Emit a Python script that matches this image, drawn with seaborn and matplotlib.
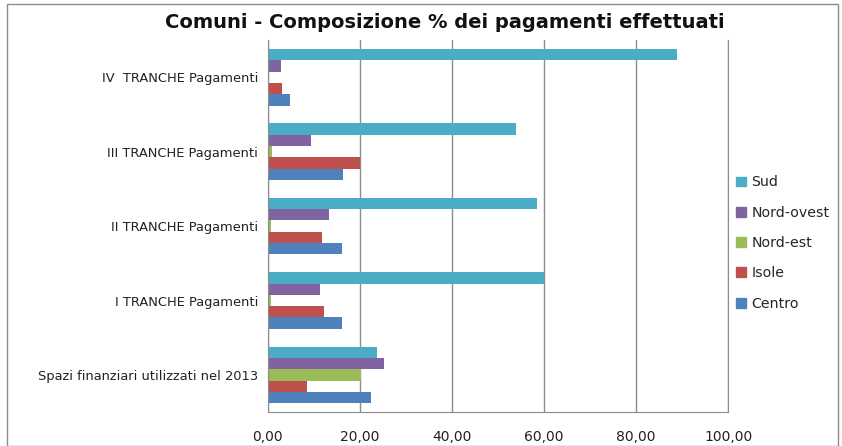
import pandas as pd
import matplotlib
matplotlib.use('Agg')
import matplotlib.pyplot as plt
import matplotlib.patches as mpatches
from matplotlib.ticker import FuncFormatter, FixedLocator
import seaborn as sns

# data (percent)
categories = ['IV  TRANCHE Pagamenti', 'III TRANCHE Pagamenti', 'II TRANCHE Pagamenti',
              'I TRANCHE Pagamenti', 'Spazi finanziari utilizzati nel 2013']
regions = ['Sud', 'Nord-ovest', 'Nord-est', 'Isole', 'Centro']
sud = [88.8, 53.8, 58.5, 60.0, 23.8]
nord_ovest = [2.8, 9.3, 13.2, 11.3, 25.3]
nord_est = [0.2, 1.0, 0.7, 0.6, 20.3]
isole = [3.2, 20.0, 11.7, 12.2, 8.6]
centro = [4.9, 16.4, 16.2, 16.1, 22.5]
colors = ['#4BACC6', '#8064A2', '#9BBB59', '#C0504D', '#4F81BD']

series = dict(zip(regions, [sud, nord_ovest, nord_est, isole, centro]))
rows = []
for reg, vals in series.items():
    for cat, v in zip(categories, vals):
        rows.append({'categoria': cat, 'area': reg, 'valore': v})
df = pd.DataFrame(rows)

sns.set_style('white')
plt.rcParams['font.family'] = ['DejaVu Sans']

fig = plt.figure(figsize=(8.42, 4.46), dpi=100)
ax = fig.add_axes([0.318, 0.076, 0.547, 0.834])

sns.barplot(data=df, x='valore', y='categoria', hue='area', order=categories,
            hue_order=regions, palette=colors, orient='h', width=0.76,
            saturation=1, linewidth=0, gap=0, ax=ax)

ax.set_xlim(0, 100)
ax.set_xticks([0, 20, 40, 60, 80, 100])
ax.xaxis.set_major_formatter(FuncFormatter(lambda v, p: f'{v:.2f}'.replace('.', ',')))
ax.grid(axis='x', color='#8c8c8c', linewidth=1)
ax.set_axisbelow(True)
ax.set_xlabel('')
ax.set_ylabel('')
ax.set_ylim(4.5, -0.5)

ax.spines['top'].set_visible(False)
for s in ['left', 'bottom', 'right']:
    ax.spines[s].set_color('#8c8c8c')

ax.tick_params(axis='x', labelsize=10, colors='#8c8c8c', length=5, labelcolor='#222222', pad=8)
ax.tick_params(axis='y', which='major', length=0, labelsize=9.4, labelcolor='#222222', pad=7)
ax.yaxis.set_minor_locator(FixedLocator([-0.5, 0.5, 1.5, 2.5, 3.5, 4.5]))
ax.tick_params(axis='y', which='minor', length=5, color='#8c8c8c')

fig.text(0.528, 0.95, 'Comuni - Composizione % dei pagamenti effettuati',
         fontsize=14, fontweight='bold', ha='center', va='center', color='#111111')

ax.legend_.remove()
handles = [mpatches.Patch(color=c, label=r) for r, c in zip(regions, colors)]
fig.legend(handles=handles, loc='center left', bbox_to_anchor=(0.859, 0.455),
           frameon=False, fontsize=10.2, handlelength=0.7, handleheight=0.7,
           handletextpad=0.4, labelspacing=1.15)

fig.patches.append(mpatches.Rectangle((0.008, 0.0), 0.987, 0.99, transform=fig.transFigure,
                                      fill=False, edgecolor='#8c8c8c', linewidth=1))

fig.savefig('out.png', dpi=100)
